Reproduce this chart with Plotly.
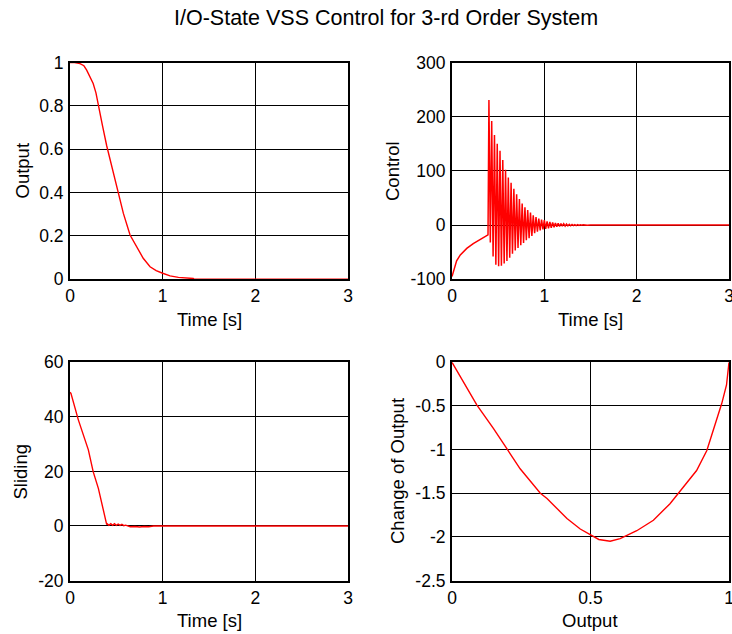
import plotly.graph_objects as go

# ---------------- data ----------------
out_t = [0, 0.05, 0.108, 0.15, 0.18, 0.21, 0.25, 0.28, 0.306, 0.35, 0.396, 0.45,
         0.522, 0.576, 0.648, 0.72, 0.79, 0.864, 0.93, 1.0, 1.08, 1.17, 1.25, 1.33,
         1.34, 3.0]
out_y = [1, 1, 0.995, 0.985, 0.965, 0.94, 0.903, 0.86, 0.80, 0.71, 0.616, 0.52,
         0.396, 0.304, 0.204, 0.15, 0.097, 0.058, 0.040, 0.028, 0.016, 0.009, 0.006,
         0.004, 0, 0]

ctl_t = [0, 0.005, 0.018, 0.05, 0.09, 0.16, 0.23, 0.32, 0.39,
         0.400, 0.415, 0.430, 0.445, 0.460, 0.475, 0.490, 0.505, 0.520, 0.535,
         0.550, 0.565, 0.580, 0.595, 0.610, 0.625, 0.640, 0.655, 0.670, 0.685,
         0.700, 0.715, 0.730, 0.745, 0.760, 0.775, 0.790, 0.805, 0.820, 0.835,
         0.850, 0.865, 0.880, 0.895, 0.910, 0.925, 0.940, 0.955, 0.970, 0.985,
         1.000, 1.015, 1.030, 1.045, 1.060, 1.075, 1.090, 1.105, 1.120, 1.135,
         1.150, 1.165, 1.180, 1.195, 1.210, 1.225, 1.240, 1.255, 1.270, 1.285,
         1.300, 1.315, 1.330, 1.345, 1.360, 1.375, 1.390, 1.405, 1.420, 1.435,
         1.450, 1.465, 1.5, 3.0]
ctl_v = [-95, -92, -83, -66, -55, -43, -34, -25, -18,
         231, -32, 192, -58, 166, -73, 150, -76, 137, -75,
         120, -71, 102, -66, 88, -60, 78, -53, 67, -47,
         57, -42, 48, -37, 40, -33, 33, -28, 28, -24,
         23, -20, 18, -15, 15, -12, 12, -10, 10, -8,
         9, -7, 7, -6, 6, -5, 5, -4, 4, -3,
         3.5, -2.5, 3, -2, 2.5, -1.8, 2, -1.5, 1.5, -1.2,
         1.2, -1.0, 1.0, -0.8, 0.8, -0.6, 0.6, -0.4, 0.4, -0.2,
         0.2, -0.1, 0, 0]

sl_t = [0, 0.01, 0.09, 0.198, 0.25, 0.306, 0.396, 0.40, 0.42, 0.44, 0.46, 0.48,
        0.50, 0.52, 0.54, 0.56, 0.58, 0.60, 0.65, 0.70, 0.75, 0.80, 0.85, 0.90, 3.0]
sl_y = [49, 48.6, 38.9, 27.9, 19.9, 13.8, 0.5, 0.8, 0.2, 0.8, 0.2, 0.8,
        0.2, 0.7, 0.2, 0.6, 0.1, 0.3, -0.3, -0.2, -0.4, -0.2, -0.3, 0, 0]

pp_x = [1.0, 0.997, 0.991, 0.974, 0.944, 0.92, 0.883, 0.829, 0.787, 0.727, 0.667,
        0.607, 0.571, 0.53, 0.5, 0.463, 0.415, 0.343, 0.319, 0.246, 0.198, 0.150,
        0.090, 0.042, 0.0]
pp_y = [0, -0.12, -0.26, -0.47, -0.76, -1.01, -1.24, -1.45, -1.62, -1.81, -1.93,
        -2.02, -2.05, -2.03, -1.98, -1.91, -1.79, -1.56, -1.50, -1.22, -0.99, -0.76,
        -0.49, -0.22, 0]

time_ticks = [0, 1, 2, 3]
time_ticktext = ["0", "1", "2", "3"]
out_ticks = [0, 0.2, 0.4, 0.6, 0.8, 1]
out_ticktext = ["0", "0.2", "0.4", "0.6", "0.8", "1"]
ctl_ticks = [-100, 0, 100, 200, 300]
ctl_ticktext = ["-100", "0", "100", "200", "300"]
sl_ticks = [-20, 0, 20, 40, 60]
sl_ticktext = ["-20", "0", "20", "40", "60"]
pp_xticks = [0, 0.5, 1]
pp_xticktext = ["0", "0.5", "1"]
pp_yticks = [-2.5, -2, -1.5, -1, -0.5, 0]
pp_yticktext = ["-2.5", "-2", "-1.5", "-1", "-0.5", "0"]

title_text = "I/O-State VSS Control for 3-rd Order System"

# ---------------- figure ----------------
W, H = 732, 634
FONT = "Liberation Sans, Arial, Helvetica, sans-serif"
RED = "#ff0000"

fig = go.Figure()
fig.add_trace(go.Scatter(x=out_t, y=out_y, mode="lines", line=dict(color=RED, width=1.4),
                         xaxis="x", yaxis="y", showlegend=False))
fig.add_trace(go.Scatter(x=ctl_t, y=ctl_v, mode="lines", line=dict(color=RED, width=1.5),
                         xaxis="x2", yaxis="y2", showlegend=False))
fig.add_trace(go.Scatter(x=sl_t, y=sl_y, mode="lines", line=dict(color=RED, width=1.4),
                         xaxis="x3", yaxis="y3", showlegend=False))
fig.add_trace(go.Scatter(x=pp_x, y=pp_y, mode="lines", line=dict(color=RED, width=1.4),
                         xaxis="x4", yaxis="y4", showlegend=False))

xl = [70 / W, 348 / W]
xr = [452 / W, 729 / W]
yt = [1 - 279.3 / H, 1 - 62.5 / H]
yb = [1 - 580.5 / H, 1 - 362.3 / H]

TICK_FS = 17.5
LAB_FS = 18.5
TITLE_FS = 21.5


def ax(domain, rng, tv, tt, anchor, is_x):
    d = dict(domain=domain, range=rng, tickvals=tv, ticktext=tt, anchor=anchor,
             showline=True, mirror=True, linecolor="black", linewidth=2,
             showgrid=True, gridcolor="black", gridwidth=1, zeroline=False,
             ticks="", fixedrange=True, automargin=False,
             ticklabelstandoff=0 if is_x else 1,
             tickfont=dict(family=FONT, size=TICK_FS, color="black"))
    if is_x:
        d["ticklabeloverflow"] = "allow"
    return d


fig.update_layout(
    template="none",
    width=W, height=H, margin=dict(l=0, r=0, t=0, b=0, pad=0), autosize=False,
    paper_bgcolor="white", plot_bgcolor="white", showlegend=False,
    xaxis=ax(xl, [0, 3], time_ticks, time_ticktext, "y", True),
    yaxis=ax(yt, [0, 1], out_ticks, out_ticktext, "x", False),
    xaxis2=ax(xr, [0, 3], time_ticks, time_ticktext, "y2", True),
    yaxis2=ax(yt, [-100, 300], ctl_ticks, ctl_ticktext, "x2", False),
    xaxis3=ax(xl, [0, 3], time_ticks, time_ticktext, "y3", True),
    yaxis3=ax(yb, [-20, 60], sl_ticks, sl_ticktext, "x3", False),
    xaxis4=ax(xr, [0, 1], pp_xticks, pp_xticktext, "y4", True),
    yaxis4=ax(yb, [-2.5, 0], pp_yticks, pp_yticktext, "x4", False),
)

ann = [
    dict(text=title_text, x=386 / W, y=1 - 17.5 / H, size=TITLE_FS, angle=0),
    dict(text="Time [s]", x=209 / W, y=1 - 319 / H, size=LAB_FS, angle=0),
    dict(text="Time [s]", x=590 / W, y=1 - 319 / H, size=LAB_FS, angle=0),
    dict(text="Time [s]", x=209 / W, y=1 - 620 / H, size=LAB_FS, angle=0),
    dict(text="Output", x=590 / W, y=1 - 620 / H, size=LAB_FS, angle=0),
    dict(text="Output", x=21.5 / W, y=1 - 171 / H, size=LAB_FS, angle=-90),
    dict(text="Control", x=392 / W, y=1 - 171 / H, size=LAB_FS, angle=-90),
    dict(text="Sliding", x=20 / W, y=1 - 471.5 / H, size=LAB_FS, angle=-90),
    dict(text="Change of Output", x=397.5 / W, y=1 - 471.5 / H, size=LAB_FS, angle=-90),
]
for a in ann:
    fig.add_annotation(text=a["text"], x=a["x"], y=a["y"], xref="paper", yref="paper",
                       xanchor="center", yanchor="middle", showarrow=False,
                       textangle=a["angle"],
                       font=dict(family=FONT, size=a["size"], color="black"))

fig.write_html("out.html")
